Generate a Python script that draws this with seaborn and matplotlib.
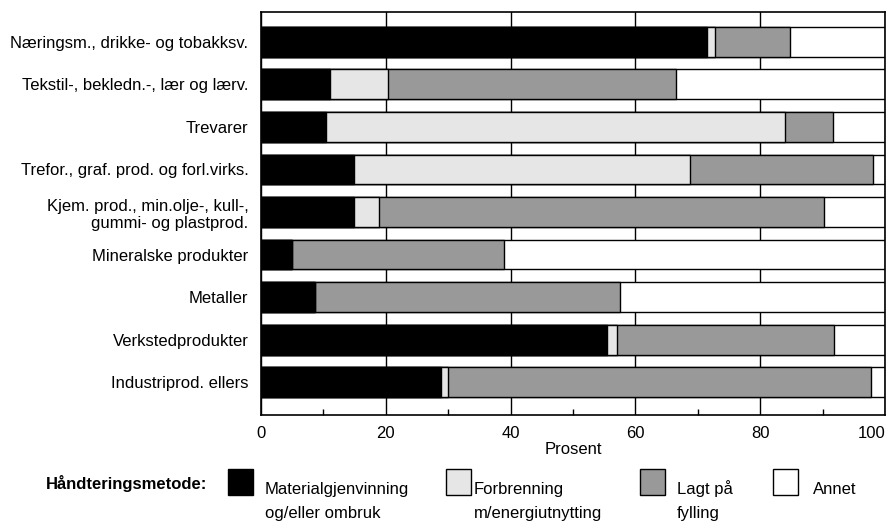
import pandas as pd
import matplotlib.pyplot as plt
import seaborn as sns
from matplotlib.patches import Rectangle
from matplotlib.ticker import MultipleLocator

categories = [
    "Næringsm., drikke- og tobakksv.",
    "Tekstil-, bekledn.-, lær og lærv.",
    "Trevarer",
    "Trefor., graf. prod. og forl.virks.",
    "Kjem. prod., min.olje-, kull-,\ngummi- og plastprod.",
    "Mineralske produkter",
    "Metaller",
    "Verkstedprodukter",
    "Industriprod. ellers",
]
materialgjenvinning = [71.4, 11.0, 10.4, 14.9, 14.9, 5.0, 8.7, 55.5, 28.8]
forbrenning = [1.4, 9.4, 73.5, 53.9, 4.0, 0.0, 0.0, 1.5, 1.2]
fylling = [11.9, 46.1, 7.8, 29.3, 71.4, 33.9, 48.9, 34.8, 67.7]
annet = [15.3, 33.5, 8.3, 1.9, 9.7, 61.1, 42.4, 8.2, 2.3]

methods = ["Materialgjenvinning", "Forbrenning", "Lagt på", "Annet"]
methods_line2 = ["og/eller ombruk", "m/energiutnytting", "fylling", ""]
colors = ["#000000", "#e6e6e6", "#999999", "#ffffff"]

sns.set_style("white")
plt.rcParams["font.family"] = ["Liberation Sans", "DejaVu Sans"]
plt.rcParams["text.color"] = "black"
plt.rcParams["axes.labelcolor"] = "black"
plt.rcParams["xtick.color"] = "black"
plt.rcParams["ytick.color"] = "black"
FS = 12

df = pd.DataFrame({
    "kategori": categories,
    methods[0]: materialgjenvinning,
    methods[1]: forbrenning,
    methods[2]: fylling,
    methods[3]: annet,
})
# cumulative sums so each layer can be drawn on top of the previous one
cum = df[methods].cumsum(axis=1)
cum["kategori"] = df["kategori"]

fig = plt.figure(figsize=(8.89, 5.22), dpi=100)
ax = fig.add_axes([261 / 889, 107 / 522, 624 / 889, 403 / 522])

for m, c in reversed(list(zip(methods, colors))):
    sns.barplot(data=cum, x=m, y="kategori", color=c, width=0.7,
                edgecolor="black", linewidth=1, saturation=1, ax=ax)

ax.set_xlim(0, 100)
ax.set_ylim(8.77, -0.70)
ax.set_xticks([0, 20, 40, 60, 80, 100])
ax.xaxis.set_minor_locator(MultipleLocator(10))
ax.xaxis.grid(True, color="black", linewidth=1)
ax.set_axisbelow(True)
ax.tick_params(axis="x", which="major", length=0, pad=8, labelsize=FS, labelcolor="black")
ax.tick_params(axis="x", which="minor", direction="in", length=4, width=1, color="black", bottom=True)
ax.tick_params(axis="y", length=0, pad=9, labelsize=FS, labelcolor="black")
ax.get_xticklabels()[-1].set_horizontalalignment("right")
ax.set_xlabel("Prosent", fontsize=FS, labelpad=1, color="black")
ax.set_ylabel("")
for s in ax.spines.values():
    s.set_visible(True)
    s.set_color("black")
    s.set_linewidth(1.2)

# legend row
W, H = 889, 522
fig.text(207 / W, 1 - 489 / H, "Håndteringsmetode:", ha="right", va="baseline",
         fontsize=FS, fontweight="bold")
box_x = [228, 446, 640, 773]
text_x = [265, 474, 677, 813]
for bx, tx, m1, m2, c in zip(box_x, text_x, methods, methods_line2, colors):
    fig.add_artist(Rectangle((bx / W, 1 - 495 / H), 25 / W, 26 / H,
                             transform=fig.transFigure, facecolor=c,
                             edgecolor="black", linewidth=1))
    fig.text(tx / W, 1 - 494 / H, m1, ha="left", va="baseline", fontsize=FS)
    if m2:
        fig.text(tx / W, 1 - 518 / H, m2, ha="left", va="baseline", fontsize=FS)

fig.savefig("out.png", dpi=100)
